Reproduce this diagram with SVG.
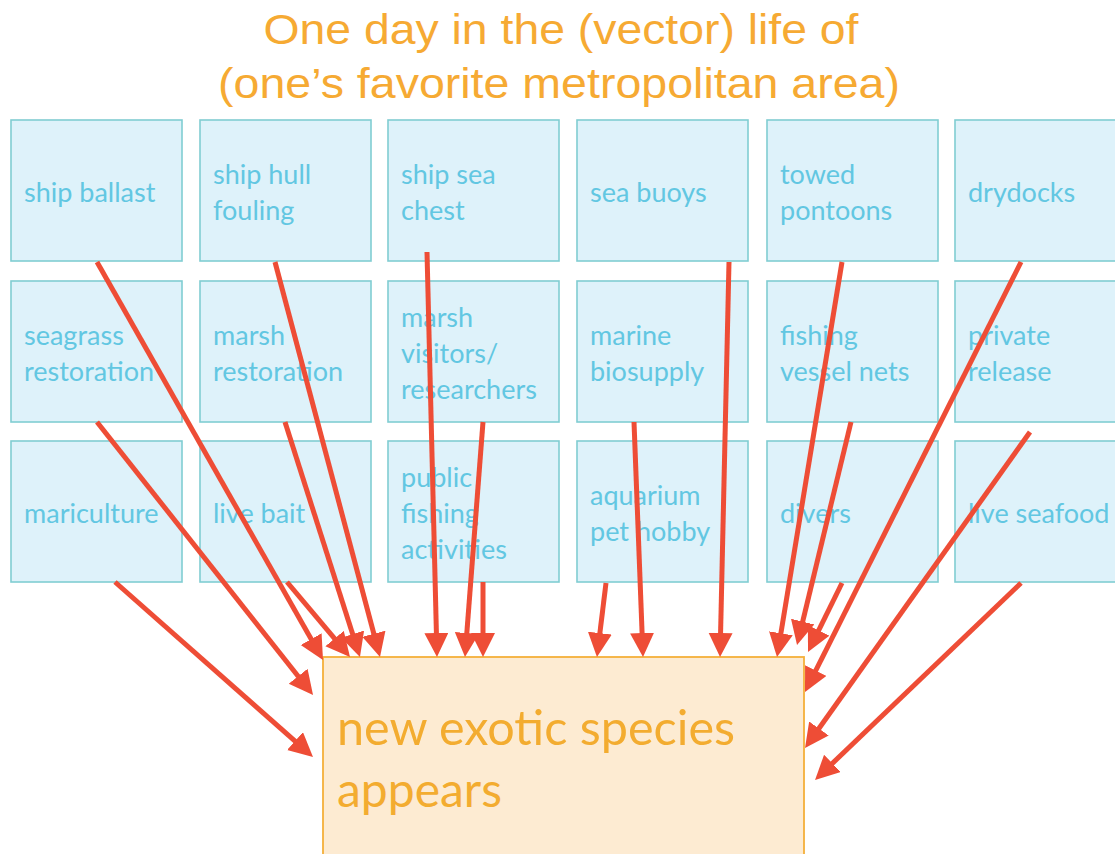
<svg xmlns="http://www.w3.org/2000/svg" width="1115" height="854" viewBox="0 0 1115 854">
<defs>
<style>
.title{font-family:"Liberation Sans",Arial,sans-serif;font-size:43px;fill:#F6AA33;}
.box rect{fill:#DEF2FA;stroke:#80CDD2;stroke-width:1.6;}
.box text{font-family:Lato,"Open Sans",sans-serif;font-size:27px;fill:#62C7E2;}
.target rect{fill:#FDEBD2;stroke:#F4B03A;stroke-width:1.8;}
.target text{font-family:Lato,"Open Sans",sans-serif;font-size:48px;fill:#F3AC30;}
.conn line{stroke:#EE4D36;stroke-width:5;fill:none;marker-end:url(#ah);}
</style>
<marker id="ah" markerUnits="userSpaceOnUse" markerWidth="26" markerHeight="26" refX="8" refY="12" orient="auto">
<path d="M0,0 L24,12 L0,24 z" fill="#EE4D36"/>
</marker>
</defs>
<rect width="1115" height="854" fill="#FFFFFF"/>
<g id="title">
<text class="title" x="561" y="44" text-anchor="middle" textLength="595" lengthAdjust="spacingAndGlyphs">One day in the (vector) life of</text>
<text class="title" x="559" y="98" text-anchor="middle" textLength="682" lengthAdjust="spacingAndGlyphs">(one’s favorite metropolitan area)</text>
</g>
<g id="n-ship-ballast" class="box"><rect x="11" y="120" width="171" height="141"/><text x="24" y="202">ship ballast</text></g>
<g id="n-ship-hull" class="box"><rect x="200" y="120" width="171" height="141"/><text x="213" y="184">ship hull</text><text x="213" y="220">fouling</text></g>
<g id="n-ship-sea-chest" class="box"><rect x="388" y="120" width="171" height="141"/><text x="401" y="184">ship sea</text><text x="401" y="220">chest</text></g>
<g id="n-sea-buoys" class="box"><rect x="577" y="120" width="171" height="141"/><text x="590" y="202">sea buoys</text></g>
<g id="n-towed-pontoons" class="box"><rect x="767" y="120" width="171" height="141"/><text x="780" y="184">towed</text><text x="780" y="220">pontoons</text></g>
<g id="n-drydocks" class="box"><rect x="955" y="120" width="171" height="141"/><text x="968" y="202">drydocks</text></g>
<g id="n-seagrass" class="box"><rect x="11" y="281" width="171" height="141"/><text x="24" y="345">seagrass</text><text x="24" y="381">restoration</text></g>
<g id="n-marsh-restoration" class="box"><rect x="200" y="281" width="171" height="141"/><text x="213" y="345">marsh</text><text x="213" y="381">restoration</text></g>
<g id="n-marsh-visitors" class="box"><rect x="388" y="281" width="171" height="141"/><text x="401" y="327">marsh</text><text x="401" y="363">visitors/</text><text x="401" y="399">researchers</text></g>
<g id="n-marine-biosupply" class="box"><rect x="577" y="281" width="171" height="141"/><text x="590" y="345">marine</text><text x="590" y="381">biosupply</text></g>
<g id="n-fishing-nets" class="box"><rect x="767" y="281" width="171" height="141"/><text x="780" y="345">fishing</text><text x="780" y="381">vessel nets</text></g>
<g id="n-private-release" class="box"><rect x="955" y="281" width="171" height="141"/><text x="968" y="345">private</text><text x="968" y="381">release</text></g>
<g id="n-mariculture" class="box"><rect x="11" y="441" width="171" height="141"/><text x="24" y="523">mariculture</text></g>
<g id="n-live-bait" class="box"><rect x="200" y="441" width="171" height="141"/><text x="213" y="523">live bait</text></g>
<g id="n-public-fishing" class="box"><rect x="388" y="441" width="171" height="141"/><text x="401" y="487">public</text><text x="401" y="523">fishing</text><text x="401" y="559">activities</text></g>
<g id="n-aquarium" class="box"><rect x="577" y="441" width="171" height="141"/><text x="590" y="505">aquarium</text><text x="590" y="541">pet hobby</text></g>
<g id="n-divers" class="box"><rect x="767" y="441" width="171" height="141"/><text x="780" y="523">divers</text></g>
<g id="n-live-seafood" class="box"><rect x="955" y="441" width="171" height="141"/><text x="968" y="523">live seafood</text></g>
<g id="n-new-species" class="target"><rect x="323" y="657" width="481" height="215"/><text x="337" y="745" textLength="398" lengthAdjust="spacingAndGlyphs">new exotic species</text><text x="337" y="807">appears</text></g>
<g id="connectors" class="conn">
<line x1="97" y1="262" x2="315.1" y2="646.1"/>
<line x1="275" y1="262" x2="375.9" y2="641.5"/>
<line x1="427" y1="252" x2="436.6" y2="641"/>
<line x1="729" y1="262" x2="720.4" y2="641"/>
<line x1="842" y1="262" x2="779.6" y2="641.2"/>
<line x1="1021" y1="262" x2="812.2" y2="677.7"/>
<line x1="97" y1="422" x2="303.1" y2="682.5"/>
<line x1="285" y1="422" x2="355.1" y2="641.8"/>
<line x1="483" y1="422" x2="466.2" y2="641"/>
<line x1="634" y1="422" x2="642.4" y2="641"/>
<line x1="851" y1="422" x2="800.8" y2="629.4"/>
<line x1="1030" y1="432" x2="814.3" y2="735"/>
<line x1="115" y1="582" x2="301" y2="746.4"/>
<line x1="287" y1="582" x2="339.7" y2="644.7"/>
<line x1="483" y1="582" x2="483" y2="641"/>
<line x1="606" y1="583" x2="598.9" y2="641.1"/>
<line x1="842" y1="583" x2="815.1" y2="637.6"/>
<line x1="1021" y1="583" x2="826.6" y2="768.9"/>
</g>
</svg>
